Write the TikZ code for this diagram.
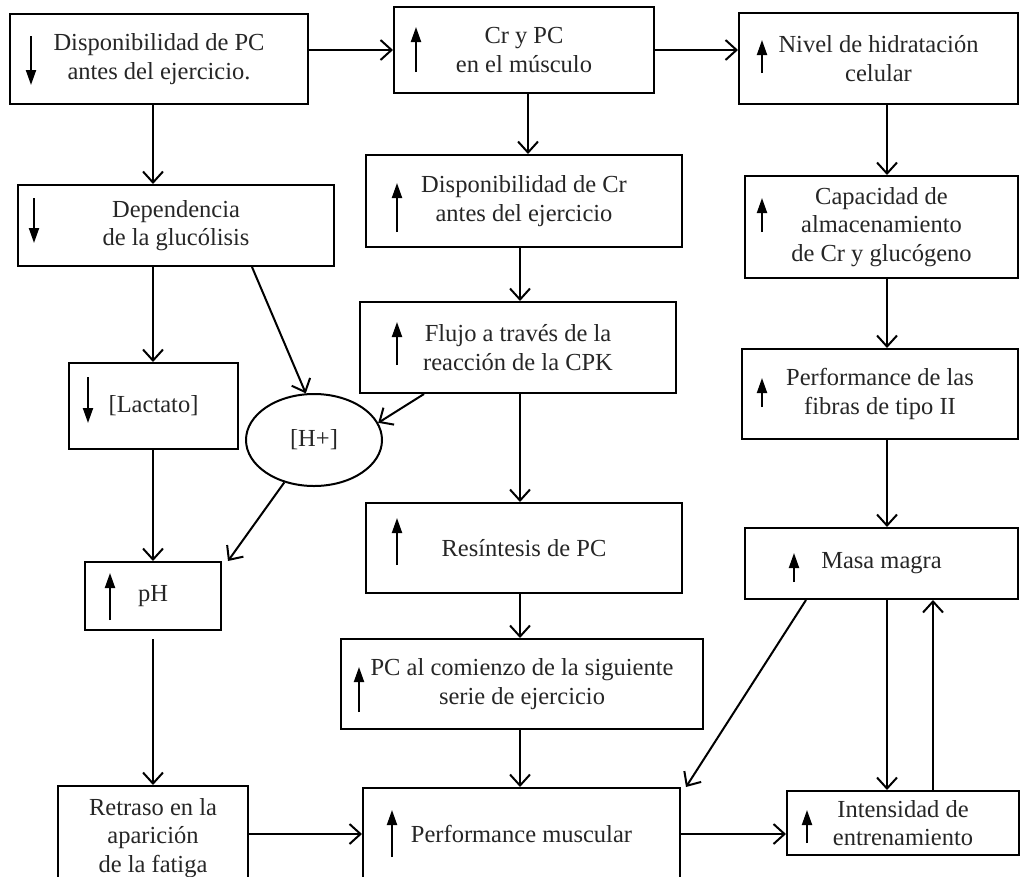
\documentclass[tikz,border=0pt]{standalone}
\usepackage{fontspec}
\setmainfont{Liberation Serif}
\usetikzlibrary{arrows.meta,shapes.geometric,calc}
\newcommand{\arrUp}[4]{\draw[glyph] ([shift={(#2,#4)}]#1.west) -- ([shift={(#2,#3)}]#1.west);}
\newcommand{\arrDown}[4]{\draw[glyph] ([shift={(#2,#3)}]#1.west) -- ([shift={(#2,#4)}]#1.west);}
\begin{document}
\begin{tikzpicture}[x=1pt,y=-1pt,
  box/.style={draw, line width=2pt, inner sep=0pt, align=center,
    font=\fontsize{24.5}{28.5}\selectfont, text=black!85},
  ell/.style={draw, ellipse, line width=2pt, inner sep=0pt,
    font=\fontsize{24.5}{28.5}\selectfont, text=black!85},
  conn/.style={line width=2pt, -{Straight Barb[length=11pt,width=20pt]}},
  glyph/.style={line width=2pt, -{Triangle[length=15pt,width=10pt]}}]
\path[use as bounding box, clip] (0,0) rectangle (1020,876);
\fill[white] (0,0) rectangle (1020,876);
% boxes
\node[box, minimum width=298, minimum height=90] (A) at (159,59) {Disponibilidad de PC\\antes del ejercicio.};
\node[box, minimum width=260, minimum height=86] (B) at (524,50) {Cr y PC\\en el músculo};
\node[box, minimum width=279, minimum height=91] (C) at (878.5,58.5) {Nivel de hidratación\\celular};
\node[box, minimum width=316, minimum height=81] (D) at (176,225.5) {Dependencia\\de la glucólisis};
\node[box, minimum width=316, minimum height=92] (E) at (524,201) {Disponibilidad de Cr\\antes del ejercicio};
\node[box, minimum width=273, minimum height=102] (F) at (881.5,227) {Capacidad de\\almacenamiento\\de Cr y glucógeno};
\node[box, minimum width=316, minimum height=91] (G) at (518,347.5) {Flujo a través de la\\reacción de la CPK};
\node[box, minimum width=276, minimum height=90] (H) at (880,394) {Performance de las\\fibras de tipo II};
\node[box, minimum width=169, minimum height=86] (L) at (153.5,406) {[Lactato]};
\node[ell, minimum width=136, minimum height=92] (HE) at (314,440) {[H+]};
\node[box, minimum width=136, minimum height=68] (P) at (153,596) {pH};
\node[box, minimum width=316, minimum height=90] (S) at (524,548) {Resíntesis de PC};
\node[box, minimum width=362, minimum height=90] (T) at (522,684) {PC al comienzo de la siguiente\\serie de ejercicio};
\node[box, minimum width=317, minimum height=92] (U) at (521.5,834) {Performance muscular};
\node[box, minimum width=190, minimum height=104] (R) at (153,838) {Retraso en la\\aparición\\de la fatiga};
\node[box, minimum width=273, minimum height=71] (M) at (881.5,563.5) {Masa magra};
\node[box, minimum width=232, minimum height=64] (I) at (903,823) {Intensidad de\\entrenamiento};
% glyph arrows inside boxes
\arrDown{A}{22}{-23}{26}
\arrUp{B}{23}{-23}{22}
\arrUp{C}{24}{-18.5}{14.5}
\arrDown{D}{17}{-27.5}{17.5}
\arrUp{E}{32}{-18}{31}
\arrUp{F}{18}{-29}{5}
\arrUp{G}{38}{-25.5}{17.5}
\arrUp{H}{21}{-16}{13}
\arrDown{L}{20}{-29}{17}
\arrUp{P}{26}{-23}{24}
\arrUp{S}{32}{-30}{17}
\arrUp{T}{19}{-17}{28}
\arrUp{U}{30}{-24}{23}
\arrUp{M}{50}{-10.5}{18.5}
\arrUp{I}{21}{-13}{20}
% connectors
\draw[conn] (A.east |- B.west) -- (B.west);
\draw[conn] (B.east) -- (B.east -| C.west);
\draw[conn] ([shift={(-6,0)}]A.south) coordinate (c3) -- (c3 |- D.north);
\draw[conn] ([shift={(4,0)}]B.south) coordinate (c4) -- (c4 |- E.north);
\draw[conn] ([shift={(8.5,0)}]C.south) coordinate (c5) -- (c5 |- F.north);
\draw[conn] ([shift={(-4,0)}]E.south) coordinate (c6) -- (c6 |- G.north);
\draw[conn] ([shift={(5.5,0)}]F.south) coordinate (c7) -- (c7 |- H.north);
\draw[conn] ([shift={(-23,0)}]D.south) coordinate (c8) -- (c8 |- L.north);
\draw[conn] ([shift={(76,0)}]D.south) -- (HE.100);
\draw[conn] ([shift={(-94,0)}]G.south) -- (HE.15);
\draw[conn] (HE.235) -- ([shift={(6,0)}]P.north east);
\draw[conn] ([shift={(-0.5,0)}]L.south) coordinate (c12) -- (c12 |- P.north);
\draw[conn] ([shift={(2,0)}]G.south) coordinate (c13) -- (c13 |- S.north);
\draw[conn] ([shift={(7,0)}]H.south) coordinate (c14) -- (c14 |- M.north);
\draw[conn] ([shift={(0,8)}]P.south) coordinate (c15) -- (c15 |- R.north);
\draw[conn] ([shift={(-4,0)}]S.south) coordinate (c16) -- (c16 |- T.north);
\draw[conn] ([shift={(-2,0)}]T.south) coordinate (c17) -- (c17 |- U.north);
\draw[conn] (U.west -| R.east) -- (U.west);
\draw[conn] (U.east) -- (U.east -| I.west);
\draw[conn] ([shift={(-75.5,0)}]M.south) -- ([shift={(5,0)}]U.north east);
\draw[conn] ([shift={(5.5,0)}]M.south) coordinate (c21) -- (c21 |- I.north);
\draw[conn] ([shift={(30,0)}]I.north) coordinate (c22) -- (c22 |- M.south);
\end{tikzpicture}
\end{document}
